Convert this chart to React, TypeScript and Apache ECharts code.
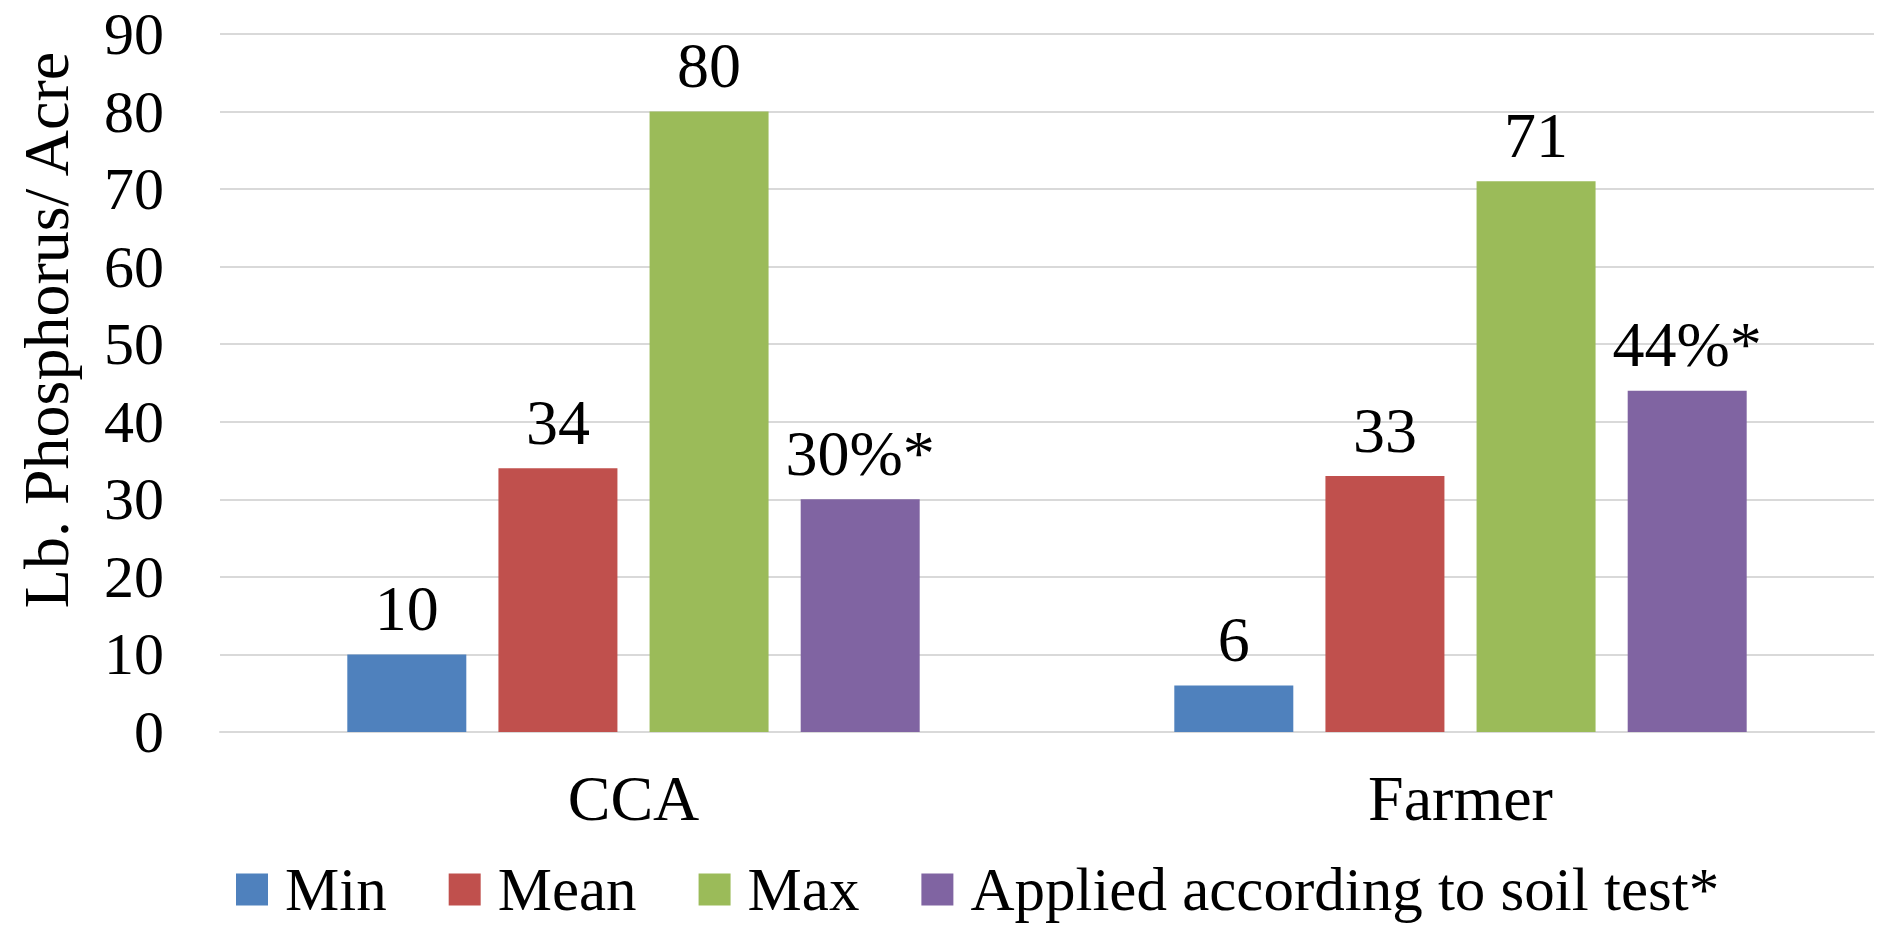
import React, { useEffect, useRef } from "react";
import * as echarts from "echarts";

const categories = ["CCA", "Farmer"];
const seriesNames = ["Min", "Mean", "Max", "Applied according to soil test*"];
const minValues = [10, 6];
const meanValues = [34, 33];
const maxValues = [80, 71];
const appliedValues = [30, 44];
const appliedLabels = ["30%*", "44%*"];
const colors = ["#4F81BD", "#C0504D", "#9BBB59", "#8064A2"];
const yTicks = [0, 10, 20, 30, 40, 50, 60, 70, 80, 90];

const FONT = '"Liberation Serif", "Times New Roman", serif';

export default function App() {
  const ref = useRef<HTMLDivElement>(null);
  useEffect(() => {
    document.body.style.margin = "0";
    if (!ref.current) return;
    const chart = echarts.init(ref.current, null, { renderer: "svg" });
    const values = [minValues, meanValues, maxValues, appliedValues];
    const series = values.map((vals, i) => ({
      name: seriesNames[i],
      type: "bar",
      data: vals,
      barWidth: 119,
      barGap: "27%",
      itemStyle: { color: colors[i] },
      label: {
        show: true,
        position: "top",
        distance: 16,
        color: "#000",
        fontFamily: FONT,
        fontSize: 64,
        lineHeight: 60,
        formatter: (p: any) => (i === 3 ? appliedLabels[p.dataIndex] : String(p.value)),
      },
    }));
    chart.setOption({
      animation: false,
      backgroundColor: "#fff",
      textStyle: { fontFamily: FONT },
      grid: { left: 220, right: 4, top: 34, bottom: 193, containLabel: false },
      legend: {
        data: seriesNames,
        left: 236,
        top: 859,
        padding: 0,
        itemWidth: 32,
        itemHeight: 32,
        itemGap: 62,
        icon: "rect",
        textStyle: { fontFamily: FONT, fontSize: 61, lineHeight: 60, color: "#000", padding: [0, 0, 0, 12] },
      },
      xAxis: {
        type: "category",
        data: categories,
        axisTick: { show: false },
        axisLine: { lineStyle: { color: "#D9D9D9", width: 2 } },
        axisLabel: { fontFamily: FONT, fontSize: 64, lineHeight: 60, color: "#000", margin: 36 },
      },
      yAxis: {
        type: "value",
        min: yTicks[0],
        max: yTicks[yTicks.length - 1],
        interval: 10,
        axisLine: { show: false },
        axisTick: { show: false },
        splitLine: { lineStyle: { color: "#D9D9D9", width: 2 } },
        axisLabel: { fontFamily: FONT, fontSize: 60, lineHeight: 58, color: "#000", margin: 56 },
      },
      graphic: [
        {
          type: "text",
          x: 46,
          y: 330,
          rotation: Math.PI / 2,
          style: {
            text: "Lb. Phosphorus/ Acre",
            fontFamily: FONT,
            fontSize: 64,
            fill: "#000",
            align: "center",
            verticalAlign: "middle",
          },
        },
      ],
      series,
    });
    return () => chart.dispose();
  }, []);
  return <div ref={ref} style={{ width: 1878, height: 925 }} />;
}
